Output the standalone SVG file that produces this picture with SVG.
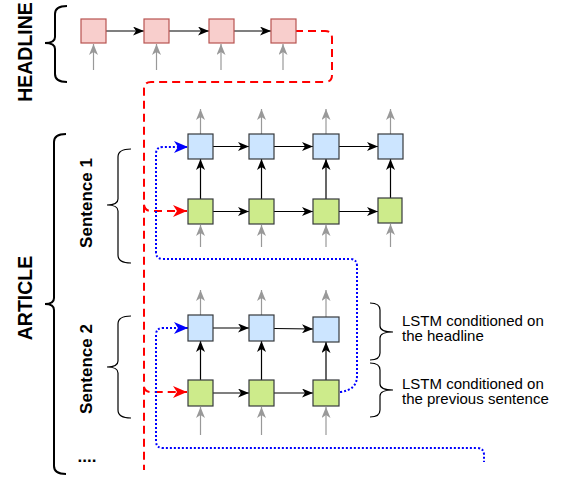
<svg xmlns="http://www.w3.org/2000/svg" width="561" height="481" viewBox="0 0 561 481">
<style>
.hl{fill:#f8cecc;stroke:#b85450;stroke-width:1.2}
.bl{fill:#cce5ff;stroke:#36393d;stroke-width:1.2}
.gr{fill:#cdeb8b;stroke:#36393d;stroke-width:1.2}
.ab{stroke:#000;stroke-width:1.2;fill:none;marker-end:url(#mB)}
.ag{stroke:#999;stroke-width:1.2;fill:none;marker-end:url(#mG)}
.red{stroke:#ff0000;stroke-width:2;fill:none;stroke-dasharray:8 5}
.blue{stroke:#0000ff;stroke-width:2;fill:none;stroke-dasharray:2 2}
.br{stroke:#000;fill:none}
.big{font-family:"Liberation Sans",Arial,sans-serif;font-weight:bold;text-anchor:middle}
.lbl{font-family:"Liberation Sans",Arial,sans-serif;font-size:15px;fill:#000}
</style>
<defs>
<marker id="mB" markerUnits="userSpaceOnUse" viewBox="0 0 11 9" markerWidth="11" markerHeight="9" refX="11" refY="4.5" orient="auto"><path d="M0,0 L11,4.5 L0,9 L3,4.5 Z" fill="#000"/></marker>
<marker id="mG" markerUnits="userSpaceOnUse" viewBox="0 0 11 9" markerWidth="11" markerHeight="9" refX="11" refY="4.5" orient="auto"><path d="M0,0 L11,4.5 L0,9 L3,4.5 Z" fill="#999"/></marker>
<marker id="mR" markerUnits="userSpaceOnUse" viewBox="0 0 14 12" markerWidth="14" markerHeight="12" refX="14" refY="6" orient="auto"><path d="M0,0 L14,6 L0,12 L4,6 Z" fill="#ff0000"/></marker>
<marker id="mBl" markerUnits="userSpaceOnUse" viewBox="0 0 14 12" markerWidth="14" markerHeight="12" refX="14" refY="6" orient="auto"><path d="M0,0 L14,6 L0,12 L4,6 Z" fill="#0000ff"/></marker>
</defs>

<g id="labels">
<text class="big" font-size="19.5" transform="translate(32,52) rotate(-90)">HEADLINE</text>
<text class="big" font-size="19.5" transform="translate(32,298) rotate(-90)">ARTICLE</text>
<text class="big" font-size="17" transform="translate(92,203) rotate(-90)">Sentence 1</text>
<text class="big" font-size="17" transform="translate(92,369) rotate(-90)">Sentence 2</text>
<text class="big" font-size="17" x="87" y="462">....</text>
<text class="lbl" x="402" y="325.5">LSTM conditioned on</text>
<text class="lbl" x="402" y="341">the headline</text>
<text class="lbl" x="402" y="388.5">LSTM conditioned on</text>
<text class="lbl" x="402" y="404">the previous sentence</text>
</g>

<g id="braces">
<path class="br" stroke-width="2" d="M67,6 Q55,6 55,14 L55,37 Q55,43 45,43 Q55,43 55,49 L55,74 Q55,82 67,82"/>
<path class="br" stroke-width="2" d="M66,134 Q54,134 54,142 L54,298 Q54,304 45,304 Q54,304 54,310 L54,466 Q54,474 66,474"/>
<path class="br" stroke-width="1.2" d="M131,149 Q118,149 118,157 L118,199 Q118,205 107,205 Q118,205 118,211 L118,255 Q118,263 131,263"/>
<path class="br" stroke-width="1.2" d="M131,316 Q118,316 118,324 L118,361 Q118,367 107,367 Q118,367 118,373 L118,410 Q118,418 131,418"/>
<path class="br" stroke-width="1.2" d="M370,303 Q380,303 380,310 L380,326 Q380,332 393,332 Q380,332 380,338 L380,353 Q380,360 370,360"/>
<path class="br" stroke-width="1.2" d="M370,363 Q380,363 380,370 L380,384 Q380,390 393,390 Q380,390 380,396 L380,410 Q380,417 370,417"/>
</g>

<g id="connectors">
<line class="ab" x1="106" y1="31" x2="144" y2="31"/>
<line class="ab" x1="169" y1="31" x2="209" y2="31"/>
<line class="ab" x1="233" y1="31" x2="271" y2="31"/>
<line class="ag" x1="93.5" y1="70" x2="93.5" y2="44"/>
<line class="ag" x1="156.5" y1="70" x2="156.5" y2="44"/>
<line class="ag" x1="221" y1="70" x2="221" y2="44"/>
<line class="ag" x1="283" y1="70" x2="283" y2="44"/>
<line class="ab" x1="213" y1="146.5" x2="249" y2="146.5"/>
<line class="ab" x1="274" y1="146.5" x2="313" y2="146.5"/>
<line class="ab" x1="339" y1="146.5" x2="378" y2="146.5"/>
<line class="ab" x1="213" y1="211.5" x2="249" y2="211.5"/>
<line class="ab" x1="274" y1="211.5" x2="313" y2="211.5"/>
<line class="ab" x1="339" y1="211.5" x2="378" y2="211.5"/>
<line class="ab" x1="200.5" y1="199" x2="200.5" y2="159"/>
<line class="ab" x1="261.5" y1="199" x2="261.5" y2="159"/>
<line class="ab" x1="326" y1="199" x2="326" y2="159"/>
<line class="ab" x1="390.5" y1="198" x2="390.5" y2="159"/>
<line class="ag" x1="200.5" y1="134" x2="200.5" y2="109"/>
<line class="ag" x1="261.5" y1="134" x2="261.5" y2="109"/>
<line class="ag" x1="326" y1="134" x2="326" y2="109"/>
<line class="ag" x1="390.5" y1="134" x2="390.5" y2="109"/>
<line class="ag" x1="200.5" y1="247" x2="200.5" y2="225"/>
<line class="ag" x1="261.5" y1="247" x2="261.5" y2="225"/>
<line class="ag" x1="326" y1="247" x2="326" y2="225"/>
<line class="ag" x1="390.5" y1="247" x2="390.5" y2="224"/>
<line class="ab" x1="213" y1="328" x2="249" y2="328"/>
<line class="ab" x1="274" y1="328.5" x2="313" y2="329"/>
<line class="ab" x1="213" y1="393" x2="249" y2="393"/>
<line class="ab" x1="274" y1="393" x2="313" y2="393"/>
<line class="ab" x1="200.5" y1="380" x2="200.5" y2="341"/>
<line class="ab" x1="261.5" y1="380" x2="261.5" y2="341"/>
<line class="ab" x1="326" y1="380" x2="326" y2="342"/>
<line class="ag" x1="200.5" y1="315" x2="200.5" y2="290"/>
<line class="ag" x1="261.5" y1="315" x2="261.5" y2="290"/>
<line class="ag" x1="326" y1="317" x2="326" y2="290"/>
<line class="ag" x1="200.5" y1="435" x2="200.5" y2="407"/>
<line class="ag" x1="261.5" y1="435" x2="261.5" y2="407"/>
<line class="ag" x1="326" y1="435" x2="326" y2="407"/>
<path class="red" d="M295,31 H325 Q332,31 332,38 V75 Q332,82 325,82 H151 Q144,82 144,89 V470"/>
<path class="red" d="M144,205 Q145,211 151,211 H187" marker-end="url(#mR)"/>
<path class="red" d="M144,387 Q145,392 151,392 H187" marker-end="url(#mR)"/>
<path class="blue" d="M340,392 Q357,390 357,376 V266 Q357,259 350,259 H163 Q156,259 156,252 V154 Q156,147 163,147 H188" marker-end="url(#mBl)"/>
<path class="blue" d="M188,328 H163 Q156,328 156,335 V441 Q156,448 163,448 H477 Q484,448 484,455 V462"/>
<line x1="176" y1="328" x2="188" y2="328" stroke="none" marker-end="url(#mBl)"/>
</g>

<g id="headline-nodes">
<rect id="h1" class="hl" x="81" y="19" width="25" height="24"/>
<rect id="h2" class="hl" x="144" y="19" width="25" height="24"/>
<rect id="h3" class="hl" x="209" y="19" width="25" height="24"/>
<rect id="h4" class="hl" x="271" y="19" width="25" height="24"/>
</g>
<g id="sentence1-nodes">
<rect id="s1b1" class="bl" x="188" y="134" width="25" height="25"/>
<rect id="s1b2" class="bl" x="249" y="134" width="25" height="25"/>
<rect id="s1b3" class="bl" x="313" y="134" width="26" height="25"/>
<rect id="s1b4" class="bl" x="378" y="134" width="25" height="25"/>
<rect id="s1g1" class="gr" x="188" y="199" width="25" height="25"/>
<rect id="s1g2" class="gr" x="249" y="199" width="25" height="25"/>
<rect id="s1g3" class="gr" x="313" y="199" width="26" height="25"/>
<rect id="s1g4" class="gr" x="378" y="198" width="24" height="25"/>
</g>
<g id="sentence2-nodes">
<rect id="s2b1" class="bl" x="188" y="315" width="25" height="26"/>
<rect id="s2b2" class="bl" x="249" y="315" width="25" height="26"/>
<rect id="s2b3" class="bl" x="313" y="317" width="26" height="25"/>
<rect id="s2g1" class="gr" x="188" y="380" width="25" height="26"/>
<rect id="s2g2" class="gr" x="249" y="380" width="25" height="26"/>
<rect id="s2g3" class="gr" x="313" y="380" width="26" height="26"/>
</g>
</svg>
